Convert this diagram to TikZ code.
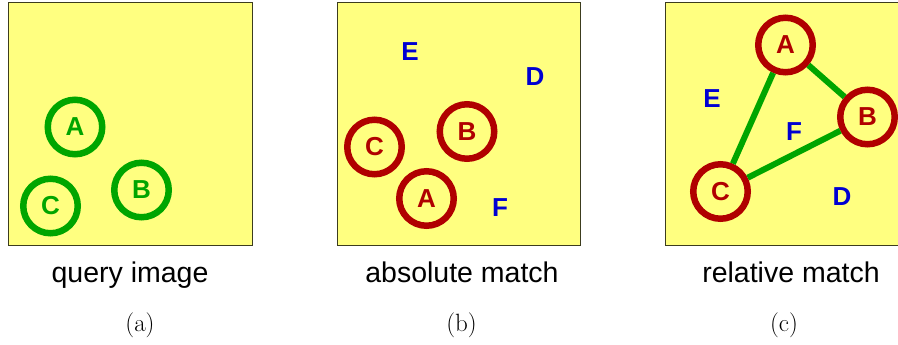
\documentclass[tikz,border=0pt]{standalone}
\usepackage{fontspec}
\usepackage{tikz}
\usetikzlibrary{positioning}
\newfontfamily\arialfont{Liberation Sans}
\definecolor{panelyellow}{RGB}{255,255,128}
\definecolor{panelline}{RGB}{60,60,30}
\definecolor{qgreen}{RGB}{0,165,0}
\definecolor{mred}{RGB}{176,0,0}
\definecolor{oblue}{RGB}{0,0,210}
\tikzset{
  panel/.style={fill=panelyellow,draw=panelline,line width=1pt},
  qcircle/.style={circle,draw=qgreen,line width=6.5pt,minimum size=54.5pt,inner sep=0pt,
    text=qgreen,font=\arialfont\bfseries\fontsize{26}{26}\selectfont},
  mcircle/.style={qcircle,draw=mred,text=mred},
  other/.style={inner sep=0pt,text=oblue,font=\arialfont\bfseries\fontsize{26}{26}\selectfont},
  link/.style={draw=qgreen,line width=6pt},
  caption/.style={anchor=base,inner sep=0pt,font=\arialfont\fontsize{28.5}{30}\selectfont},
  sublabel/.style={anchor=base,inner sep=0pt,font=\fontsize{25}{26}\selectfont}
}
\begin{document}
\begin{tikzpicture}[x=1pt,y=-1pt]
\clip (0,0) rectangle (898,345);
% (a) query image
\fill[panel] (8,3) rectangle (252,245);
\node[qcircle] (qA) at (75,127) {A};
\node[qcircle] (qB) at (141.5,190) {B};
\node[qcircle] (qC) at (50.5,206) {C};
\node[caption] (capa) at (130,282) {query image};
\node[sublabel] (laba) at (140,331) {(a)};
% (b) absolute match
\fill[panel] (337,3) rectangle (580,245);
\node[mcircle] (aA) at (426.5,198.5) {A};
\node[mcircle] (aB) at (467,131.5) {B};
\node[mcircle] (aC) at (374.5,147) {C};
\node[other] (aE) at (410,52) {E};
\node[other] (aD) at (535,77) {D};
\node[other] (aF) at (500,208) {F};
\node[caption] (capb) at (462,282) {absolute match};
\node[sublabel] (labb) at (461.5,331) {(b)};
% (c) relative match
\fill[panel] (665,3) rectangle (909,245);
\node[mcircle] (rA) at (785.5,45) {A};
\node[mcircle] (rB) at (867.5,117) {B};
\node[mcircle] (rC) at (720.5,191.5) {C};
\draw[link] (rA) -- (rB);
\draw[link] (rA) -- (rC);
\draw[link] (rB) -- (rC);
\node[other] (rE) at (712,99) {E};
\node[other] (rF) at (794,132) {F};
\node[other] (rD) at (842,197) {D};
\node[caption] (capc) at (791,282) {relative match};
\node[sublabel] (labc) at (784,331) {(c)};
\end{tikzpicture}
\end{document}
